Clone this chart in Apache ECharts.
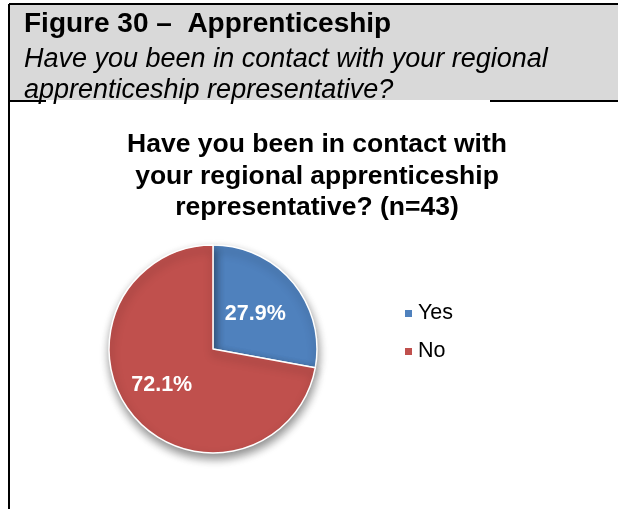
<!DOCTYPE html>
<html>
<head>
<meta charset="utf-8">
<script src="https://cdn.jsdelivr.net/npm/echarts@6/dist/echarts.min.js"></script>
<style>
  html, body { margin: 0; padding: 0; background: #fff; }
  #chart { width: 618px; height: 509px; }
</style>
</head>
<body>
<div id="chart"></div>
<script>
var categories = ['Yes', 'No'];
var values = [27.9, 72.1];
var colors = ['#4F81BD', '#C0504D'];

var font = 'Liberation Sans, Arial, sans-serif';
var chart = echarts.init(document.getElementById('chart'));

// Excel places the big slice's label a bit further out than ECharts does
var labelShift = { No: [-9, 1] };

var option = {
  animation: false,
  color: colors,
  title: {
    text: 'Have you been in contact with\nyour regional apprenticeship\nrepresentative? (n=43)',
    left: 317,
    top: 129,
    padding: 0,
    textAlign: 'center',
    textStyle: { fontFamily: font, fontSize: 26.5, fontWeight: 'bold', color: '#000', lineHeight: 31.5 }
  },
  legend: {
    orient: 'vertical',
    left: 403,
    top: 301,
    padding: 0,
    itemWidth: 9,
    itemHeight: 9,
    itemGap: 13,
    icon: 'rect',
    data: categories,
    textStyle: { fontFamily: font, fontSize: 21.5, color: '#000', lineHeight: 25 }
  },
  graphic: [
    { type: 'rect', shape: { x: 10, y: 5, width: 608, height: 95 }, style: { fill: '#D9D9D9' } },
    { type: 'line', shape: { x1: 9, y1: 4, x2: 618, y2: 4 }, style: { stroke: '#000', lineWidth: 2 } },
    { type: 'line', shape: { x1: 9, y1: 4, x2: 9, y2: 509 }, style: { stroke: '#000', lineWidth: 2 } },
    { type: 'line', shape: { x1: 9, y1: 101, x2: 46, y2: 101 }, style: { stroke: '#000', lineWidth: 2 } },
    { type: 'line', shape: { x1: 490, y1: 101, x2: 618, y2: 101 }, style: { stroke: '#000', lineWidth: 2 } },
    { type: 'text', left: 24, top: 10, style: { text: 'Figure 30 –  Apprenticeship', font: 'bold 28px ' + font, fill: '#000' } },
    { type: 'text', left: 24, top: 46, style: { text: 'Have you been in contact with your regional', font: 'italic 27px ' + font, fill: '#000' } },
    { type: 'text', left: 24, top: 77, style: { text: 'apprenticeship representative?', font: 'italic 27px ' + font, fill: '#000' } }
  ],
  series: [{
    type: 'pie',
    center: [213, 349],
    radius: 104,
    startAngle: 90,
    clockwise: true,
    data: categories.map(function (c, i) {
      var d = { name: c, value: values[i] };
      if (labelShift[c]) d.label = { offset: labelShift[c] };
      return d;
    }),
    label: {
      position: 'inside',
      formatter: function (p) { return p.value.toFixed(1) + '%'; },
      fontFamily: font,
      fontSize: 21.5,
      fontWeight: 'bold',
      color: '#fff'
    },
    labelLine: { show: false },
    itemStyle: {
      borderColor: '#fff',
      borderWidth: 1.5,
      shadowBlur: 10,
      shadowOffsetX: 1,
      shadowOffsetY: 5,
      shadowColor: 'rgba(0,0,0,0.45)'
    },
    emphasis: { disabled: true }
  }]
};
chart.setOption(option);
</script>
</body>
</html>
